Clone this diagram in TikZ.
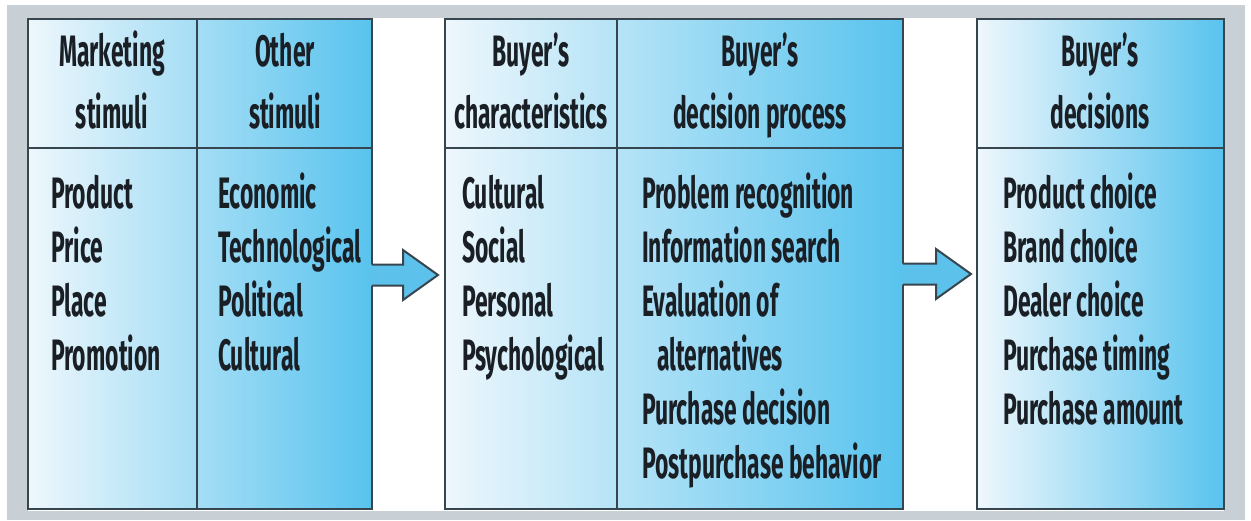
\documentclass[tikz,border=0pt]{standalone}
\usepackage{fontspec}
\setmainfont{Fira Sans}[FakeStretch=0.52]
\usetikzlibrary{calc}
\definecolor{framegray}{HTML}{C9D0D5}
\definecolor{edgec}{HTML}{37454F}
\definecolor{lite}{HTML}{EEF7FC}
\definecolor{deep}{HTML}{58C3EE}
\definecolor{arrowc}{HTML}{5CC1EB}
\definecolor{ink}{HTML}{1A1F25}
\begin{document}
\begin{tikzpicture}[x=1pt,y=-1pt,
  box/.style={draw=edgec, line width=2pt, left color=lite, right color=deep,
    minimum height=490pt, inner sep=0pt, outer sep=0pt},
  sepline/.style={draw=edgec, line width=2pt},
  arrowfill/.style={fill=arrowc},
  arrowline/.style={draw=edgec, line width=2pt, line join=miter},
  txt/.style={font=\fontsize{44}{54}\selectfont\bfseries, text=ink, inner sep=0pt, anchor=base west},
  hd/.style={txt, anchor=base}]
\useasboundingbox (0,0) rectangle (1251,520);
\fill[framegray] (7,5) rectangle (1245,520);
\fill[white] (28,18) rectangle (1224,511);

% boxes
\node[box, minimum width=344pt] (b1) at (200,264) {};
\node[box, minimum width=458pt] (b2) at (674,264) {};
\node[box, minimum width=247pt] (b3) at (1100.5,264) {};

% header separators and column dividers
\coordinate (hy) at (0,148);
\coordinate (d1) at (197,0);
\coordinate (d2) at (617,0);
\draw[sepline] (b1.west |- hy) -- (b1.east |- hy);
\draw[sepline] (b2.west |- hy) -- (b2.east |- hy);
\draw[sepline] (b3.west |- hy) -- (b3.east |- hy);
\draw[sepline] (b1.north -| d1) -- (b1.south -| d1);
\draw[sepline] (b2.north -| d2) -- (b2.south -| d2);

% arrows
\coordinate (a1s) at ($(b1.east)+(0,11)$);
\coordinate (a1t) at ($(b2.west)+(-7,11)$);
\fill[arrowfill] ($(a1s)+(-1.5,-10.5)$) -- ($(a1t)+(-35,-10.5)$) -- ($(a1t)+(-35,-25)$) -- (a1t)
  -- ($(a1t)+(-35,25)$) -- ($(a1t)+(-35,10.5)$) -- ($(a1s)+(-1.5,10.5)$) -- cycle;
\draw[arrowline] ($(a1s)+(0,-10.5)$) -- ($(a1t)+(-35,-10.5)$) -- ($(a1t)+(-35,-25)$) -- (a1t)
  -- ($(a1t)+(-35,25)$) -- ($(a1t)+(-35,10.5)$) -- ($(a1s)+(0,10.5)$);
\coordinate (a2s) at ($(b2.east)+(0,10)$);
\coordinate (a2t) at ($(b3.west)+(-6,10)$);
\fill[arrowfill] ($(a2s)+(-1.5,-10.5)$) -- ($(a2t)+(-35,-10.5)$) -- ($(a2t)+(-35,-25)$) -- (a2t)
  -- ($(a2t)+(-35,25)$) -- ($(a2t)+(-35,10.5)$) -- ($(a2s)+(-1.5,10.5)$) -- cycle;
\draw[arrowline] ($(a2s)+(0,-10.5)$) -- ($(a2t)+(-35,-10.5)$) -- ($(a2t)+(-35,-25)$) -- (a2t)
  -- ($(a2t)+(-35,25)$) -- ($(a2t)+(-35,10.5)$) -- ($(a2s)+(0,10.5)$);

% headers
\node[hd] (h1a) at (112,66) {Marketing};
\node[hd] (h1b) at (112,128) {stimuli};
\node[hd] (h2a) at (285,66) {Other};
\node[hd] (h2b) at (285,128) {stimuli};
\node[hd] (h3a) at (531,66) {Buyer's};
\node[hd] (h3b) at (531,128) {characteristics};
\node[hd] (h4a) at (760,66) {Buyer's};
\node[hd] (h4b) at (760,128) {decision process};
\node[hd] (h5a) at (1100,66) {Buyer's};
\node[hd] (h5b) at (1100,128) {decisions};

% body text
\foreach \t [count=\i] in {Product,Price,Place,Promotion}
  \node[txt] (ms\i) at (51,{208+54*(\i-1)}) {\t};
\foreach \t [count=\i] in {Economic,Technological,Political,Cultural}
  \node[txt] (os\i) at (218,{208+54*(\i-1)}) {\t};
\foreach \t [count=\i] in {Cultural,Social,Personal,Psychological}
  \node[txt] (bc\i) at (462,{208+54*(\i-1)}) {\t};
\node[txt] (dp1) at (642,208) {Problem recognition};
\node[txt] (dp2) at (642,262) {Information search};
\node[txt] (dp3) at (642,316) {Evaluation of};
\node[txt] (dp4) at (657,370) {alternatives};
\node[txt] (dp5) at (642,424) {Purchase decision};
\node[txt] (dp6) at (642,478) {Postpurchase behavior};
\foreach \t [count=\i] in {Product choice,Brand choice,Dealer choice,Purchase timing,Purchase amount}
  \node[txt] (bd\i) at (1003,{208+54*(\i-1)}) {\t};
\end{tikzpicture}
\end{document}
